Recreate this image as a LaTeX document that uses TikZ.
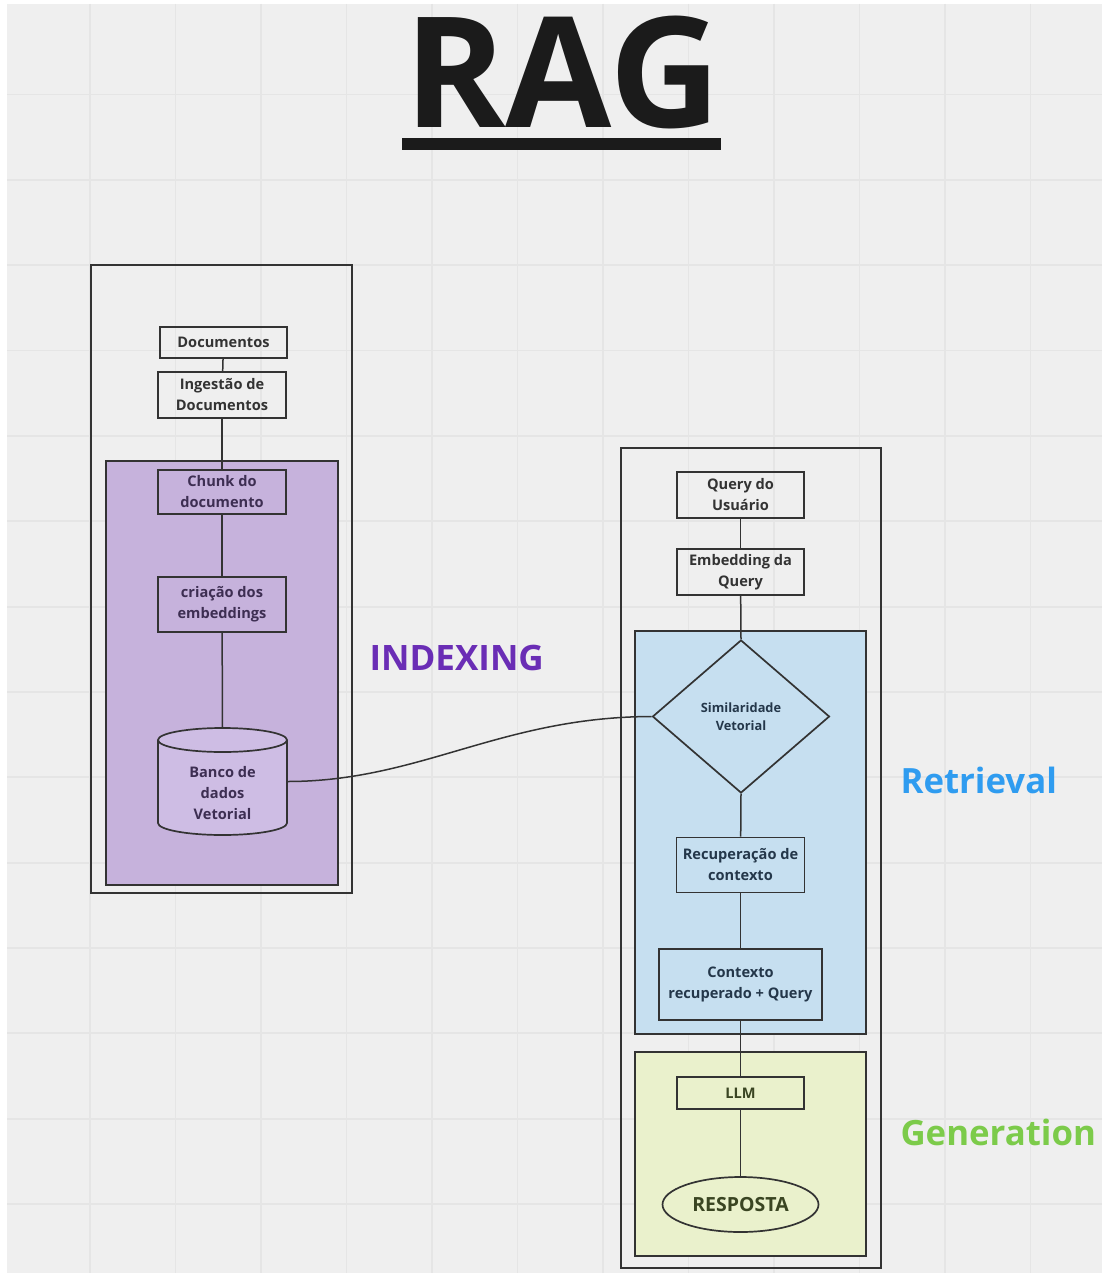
\documentclass[tikz,border=0pt]{standalone}
\usepackage{fontspec}
\setmainfont{Open Sans}
\usetikzlibrary{shapes.geometric}

\definecolor{canvasbg}{HTML}{EFEFEF}
\definecolor{gridline}{HTML}{E5E5E5}
\definecolor{inkdark}{HTML}{1B1B1B}
\definecolor{frameline}{HTML}{333333}
\definecolor{purplefill}{HTML}{C6B2DC}
\definecolor{purpledb}{HTML}{CEBDE4}
\definecolor{purpletext}{HTML}{3D2E52}
\definecolor{bluefill}{HTML}{C6DFF0}
\definecolor{bluetext}{HTML}{24374A}
\definecolor{greenfill}{HTML}{EAF1CC}
\definecolor{greentext}{HTML}{3A4522}
\definecolor{indexcol}{HTML}{6A2DB5}
\definecolor{retrcol}{HTML}{2F9CF0}
\definecolor{gencol}{HTML}{7CCB4A}

\newcommand{\boxfont}{\bfseries\fontsize{14.6}{21}\selectfont}

\tikzset{
  frame/.style={draw=frameline, line width=2},
  stepbox/.style={draw=frameline, line width=1.7, inner sep=0, align=center,
    font=\boxfont, text=frameline},
  link/.style={draw=frameline, line width=1.5},
  phase/.style={anchor=base west, font=\bfseries\fontsize{#1}{#1}\selectfont},
}

\begin{document}
\begin{tikzpicture}[x=1pt,y=-1pt]
\useasboundingbox (0,0) rectangle (1102,1273);
% canvas and grid
\fill[white] (0,0) rectangle (1102,1273);
\fill[canvasbg] (7,4) rectangle (1102,1273);
\foreach \i in {0,...,11}
  \draw[gridline, line width=1.8] ({90+85.5*\i},4) -- ({90+85.5*\i},1273);
\foreach \j in {0,...,13}
  \draw[gridline, line width=1.8] (7,{94.5+85.35*\j}) -- (1102,{94.5+85.35*\j});

% title
\node[anchor=base, font=\bfseries\fontsize{154}{160}\selectfont, text=inkdark, inner sep=0]
  (title) at (562.5,128) {RAG};
\fill[inkdark] (402,138) rectangle (721,150);

% indexing column
\draw[frame] (91,265) rectangle (352,893);
\draw[frame, fill=purplefill] (106,461) rectangle (338,885);

\node[stepbox, minimum width=127, minimum height=31] (doc) at (223.5,342.5) {Documentos};
\node[stepbox, minimum width=128, minimum height=46] (ing) at (222,395) {Ingestão de\\Documentos};
\node[stepbox, minimum width=128, minimum height=44, text=purpletext] (chunk) at (222,492) {Chunk do\\documento};
\node[stepbox, minimum width=128, minimum height=55, text=purpletext] (embd) at (222,604.5) {criação dos\\embeddings};

% vector database cylinder
\fill[purpledb] (158,740) rectangle (287,823);
\fill[purpledb] (222.5,823) ellipse [x radius=64.5pt, y radius=12pt];
\fill[purpledb] (222.5,740) ellipse [x radius=64.5pt, y radius=12pt];
\draw[frameline, line width=1.7] (222.5,740) ellipse [x radius=64.5pt, y radius=12pt];
\draw[frameline, line width=1.7] (158,740) -- (158,823)
  arc [start angle=180, end angle=360, x radius=64.5pt, y radius=12pt] -- (287,740);
\node[minimum width=129, minimum height=107, inner sep=0] (db) at (222.5,781.5) {};
\node[align=center, font=\boxfont, text=purpletext, inner sep=0] (dblabel) at (222.5,793) {Banco de\\dados\\Vetorial};

\draw[link] (doc) -- (ing);
\draw[link] (ing) -- (chunk);
\draw[link] (chunk) -- (embd);
\draw[link] (embd) -- (db.north);

\node[phase=35, text=indexcol] (indexing) at (366,670) {INDEXING};

% retrieval and generation column
\draw[frame] (621,448) rectangle (881,1268);
\draw[frame, fill=bluefill] (635,631) rectangle (866,1034);
\draw[frame, fill=greenfill] (635,1052) rectangle (866,1256);

\node[stepbox, minimum width=127, minimum height=46] (query) at (740.5,495) {Query do\\Usuário};
\node[stepbox, minimum width=127, minimum height=46] (qemb) at (740.5,572) {Embedding da\\Query};
\node[stepbox, diamond, minimum width=177, minimum height=153, text=bluetext,
  font=\bfseries\fontsize{12.8}{18}\selectfont] (sim) at (741,716.5) {Similaridade\\Vetorial};
\node[stepbox, minimum width=128, minimum height=55, text=bluetext] (recup) at (740.5,865) {Recuperação de\\contexto};
\node[stepbox, minimum width=163, minimum height=71, text=bluetext] (ctx) at (740.5,984.5) {Contexto\\recuperado + Query};
\node[stepbox, minimum width=127, minimum height=32, text=greentext] (llm) at (740.5,1093) {LLM};
\node[stepbox, ellipse, minimum width=156, minimum height=55, text=greentext,
  font=\bfseries\fontsize{19.5}{22}\selectfont] (resp) at (740.5,1204.5) {RESPOSTA};

\draw[link] (query) -- (qemb);
\draw[link] (qemb) -- (sim.north);
\draw[link] (sim.south) -- (recup);
\draw[link] (recup) -- (ctx);
\draw[link] (ctx) -- (llm);
\draw[link] (llm) -- (resp);

% database to similarity search
\draw[link] (db.east) .. controls (420,781.5) and (500,717) .. (sim.west);

\node[phase=34.8, text=retrcol] (retrieval) at (897,793) {Retrieval};
\node[phase=34.8, text=gencol] (generation) at (897,1145) {Generation};
\end{tikzpicture}
\end{document}
